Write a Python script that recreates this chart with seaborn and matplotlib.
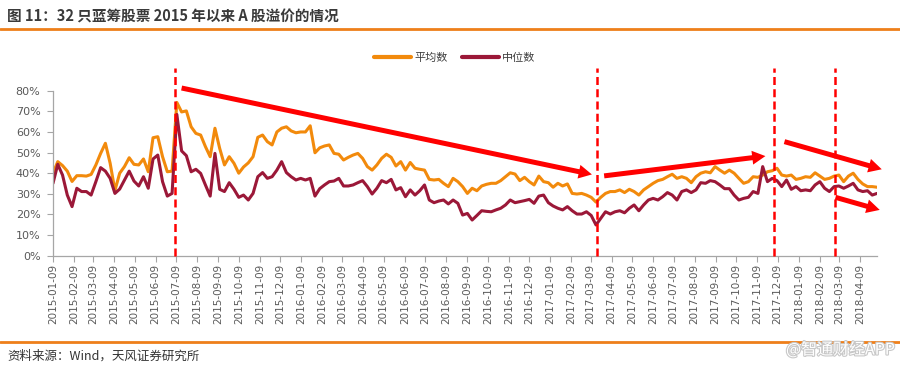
import numpy as np
import pandas as pd
import matplotlib
matplotlib.use("Agg")
import matplotlib.pyplot as plt
import matplotlib.dates as mdates
import matplotlib.patheffects as pe
from matplotlib.lines import Line2D
from matplotlib.ticker import FuncFormatter, MultipleLocator
import seaborn as sns

# ---------------- data ----------------
title = "图 11：32 只蓝筹股票 2015 年以来 A 股溢价的情况"
source = "资料来源：Wind，天风证券研究所"
watermark = "@智通财经APP"
series_names = ["平均数", "中位数"]
start_date = "2015-01-09"          # weekly observations
tick_start = "2015-01-09"
tick_end = "2018-04-09"

mean_values = [
    40.0, 45.6, 43.7, 41.0, 36.0, 38.8, 38.8, 38.6, 39.4, 44.0,
    49.6, 54.5, 44.8, 31.6, 40.0, 43.2, 47.5, 44.3, 44.0, 46.9,
    40.7, 57.2, 57.7, 48.0, 40.7, 41.0, 74.3, 69.7, 70.2, 62.5,
    59.3, 58.5, 52.9, 48.0, 61.8, 52.0, 44.0, 48.0, 44.8, 40.0,
    43.0, 45.0, 48.0, 57.4, 58.5, 55.3, 53.7, 60.0, 61.8, 62.5,
    60.5, 59.6, 60.0, 60.0, 63.0, 49.9, 52.3, 53.2, 53.7, 49.6,
    49.2, 46.4, 47.7, 48.8, 49.6, 47.2, 43.2, 41.5, 44.0, 47.2,
    49.2, 47.7, 43.5, 45.6, 41.5, 45.2, 42.4, 41.9, 41.5, 37.0,
    36.7, 37.0, 35.1, 33.5, 37.5, 35.9, 33.5, 30.2, 32.7, 31.5,
    33.8, 34.6, 35.1, 35.1, 36.4, 38.3, 40.2, 39.6, 36.4, 38.0,
    35.9, 34.3, 38.6, 35.9, 35.4, 33.2, 35.1, 33.8, 34.8, 30.2,
    29.9, 30.2, 29.4, 28.3, 26.0, 28.3, 30.2, 31.1, 31.1, 31.9,
    30.6, 32.2, 31.1, 29.4, 31.9, 33.5, 35.1, 36.4, 37.0, 38.3,
    39.5, 37.5, 38.3, 37.5, 35.4, 38.3, 40.0, 40.7, 40.2, 43.2,
    41.5, 40.0, 41.5, 40.0, 37.5, 35.1, 35.9, 38.3, 38.0, 39.1,
    40.7, 41.2, 42.4, 39.1, 38.6, 39.1, 37.0, 37.5, 38.3, 38.0,
    40.2, 38.6, 37.0, 37.5, 38.6, 39.1, 35.9, 38.6, 40.0, 37.0,
    34.8, 33.5, 33.5, 33.2,
]

median_values = [
    35.1, 44.3, 39.1, 29.4, 23.8, 32.7, 31.1, 31.1, 29.4, 35.9,
    42.7, 41.0, 37.5, 30.2, 32.3, 36.7, 41.0, 36.2, 33.8, 38.3,
    32.7, 46.9, 48.8, 35.9, 28.9, 30.2, 68.5, 50.8, 48.5, 40.7,
    41.9, 39.9, 34.3, 28.9, 49.6, 32.2, 31.1, 35.4, 32.2, 28.3,
    29.4, 27.0, 30.2, 38.3, 40.3, 37.5, 38.3, 41.5, 45.6, 40.3,
    38.3, 36.7, 37.5, 36.7, 37.5, 28.9, 32.5, 34.3, 35.9, 36.2,
    37.5, 33.8, 33.8, 34.3, 35.4, 36.4, 33.5, 29.9, 32.7, 36.4,
    35.4, 37.0, 31.9, 33.0, 28.6, 31.9, 29.4, 31.5, 34.3, 27.0,
    25.7, 26.5, 27.0, 25.1, 27.0, 25.4, 19.7, 20.5, 17.3, 19.5,
    21.8, 21.5, 21.3, 22.2, 23.0, 24.6, 27.0, 25.7, 26.2, 26.7,
    27.3, 25.4, 28.9, 29.4, 25.7, 24.1, 23.0, 22.2, 23.8, 21.8,
    20.2, 20.2, 21.3, 19.5, 14.9, 18.1, 21.3, 20.2, 21.3, 21.8,
    20.8, 23.0, 24.6, 21.8, 24.6, 27.0, 27.8, 27.0, 28.6, 30.6,
    29.4, 27.0, 31.1, 31.9, 30.6, 31.9, 35.4, 35.1, 36.4, 35.9,
    34.3, 32.5, 32.5, 29.4, 27.0, 27.8, 28.3, 31.1, 30.2, 43.2,
    35.9, 37.5, 36.4, 33.5, 36.7, 32.2, 33.5, 31.5, 31.9, 31.5,
    34.3, 35.9, 32.7, 31.1, 33.5, 33.8, 32.7, 33.8, 35.1, 31.9,
    31.1, 31.5, 29.4, 30.2,
]

# annotation marks (dashed markers and trend arrows)
vline_dates = ["2015-07-07", "2017-03-19", "2017-12-03", "2018-03-04"]
arrow_specs = [  # (start date, start value, tip date, tip value)
    ("2015-07-17", 81.3, "2017-03-11", 39.4),
    ("2017-03-29", 38.7, "2017-11-21", 48.3),
    ("2017-12-19", 55.3, "2018-05-11", 41.9),
    ("2018-03-04", 28.3, "2018-05-08", 22.2),
]

colors = {"平均数": "#F28A0C", "中位数": "#9B1838"}
cjk = ["Noto Sans CJK SC", "DejaVu Sans"]

# ---------------- build frame ----------------
dates = pd.date_range(start_date, periods=len(mean_values), freq="7D")
df = pd.concat([
    pd.DataFrame({"date": dates, "value": mean_values, "series": series_names[0]}),
    pd.DataFrame({"date": dates, "value": median_values, "series": series_names[1]}),
], ignore_index=True)

sns.set_theme(style="white")
plt.rcParams["font.family"] = ["DejaVu Sans", "Noto Sans CJK SC"]
plt.rcParams["axes.unicode_minus"] = False

W, H = 900, 368
fig = plt.figure(figsize=(W / 100, H / 100), dpi=100)
ax = fig.add_axes([53 / W, 1 - 255.7 / H, 824 / W, (255.7 - 90.7) / H])

sns.lineplot(data=df, x="date", y="value", hue="series", hue_order=series_names,
             palette=colors, linewidth=2.2, ax=ax, legend=False)

ax.set_xlim(dates[0], dates[-1])
ax.set_ylim(0, 80)
ax.set_xlabel("")
ax.set_ylabel("")

# ticks: the 9th of every month
ticks = pd.date_range(tick_start, tick_end, freq=pd.DateOffset(months=1))
ax.set_xticks(ticks)
ax.xaxis.set_major_formatter(mdates.DateFormatter("%Y-%m-%d"))
ax.yaxis.set_major_locator(MultipleLocator(10))
ax.yaxis.set_major_formatter(FuncFormatter(lambda v, p: f"{v:.0f}%"))
ax.tick_params(axis="x", bottom=True, labelrotation=90, labelsize=7.5, labelcolor="#595959",
               color="#A6A6A6", length=4, width=0.8, pad=2)
ax.tick_params(axis="y", left=True, labelsize=8, labelcolor="#595959",
               color="#A6A6A6", length=4, width=0.8, pad=5)
for s in ["top", "right"]:
    ax.spines[s].set_visible(False)
for s in ["left", "bottom"]:
    ax.spines[s].set_color("#A6A6A6")
    ax.spines[s].set_linewidth(0.9)

# dashed markers
for d in vline_dates:
    ax.axvline(pd.Timestamp(d), ymin=0, ymax=91 / 80, color="#FF0000", lw=1.8,
               linestyle=(0, (3.2, 1.7)), clip_on=False, zorder=5)

# arrows
for sd, sv, ed, ev in arrow_specs:
    ax.annotate("", xy=(mdates.date2num(pd.Timestamp(ed)), ev),
                xytext=(mdates.date2num(pd.Timestamp(sd)), sv),
                xycoords="data", textcoords="data", annotation_clip=False,
                arrowprops=dict(arrowstyle="simple,head_length=0.95,head_width=1.0,tail_width=0.36",
                                mutation_scale=10, facecolor="#FF0000", edgecolor="none",
                                lw=0, shrinkA=0, shrinkB=0),
                zorder=6)

# legend
handles = [Line2D([], [], color=colors[n], lw=3) for n in series_names]
fig.legend(handles, series_names, loc="center", bbox_to_anchor=(455 / W, 1 - 57.5 / H),
           ncol=2, frameon=False, prop={"family": cjk, "size": 8}, labelcolor="#404040",
           handlelength=3.3, handletextpad=0.3, columnspacing=1.3, borderpad=0, borderaxespad=0)

# title, rules, footer
fig.text(7 / W, 1 - 17 / H, title, fontsize=10.5, fontweight="bold", color="#3A3A3A",
         ha="left", va="center", family=cjk)
fig.add_artist(Line2D([0, 1], [1 - 28.5 / H] * 2, color="#EE7F1A", lw=2, transform=fig.transFigure))
fig.add_artist(Line2D([0, 1], [1 - 342 / H] * 2, color="#EE7F1A", lw=2, transform=fig.transFigure))
fig.text(7 / W, 1 - 356.5 / H, source, fontsize=9, color="#333333", ha="left", va="center", family=cjk)
fig.text(895 / W, 1 - 350 / H, watermark, fontsize=11.5, color="white", ha="right", va="center",
         family=cjk, path_effects=[pe.withStroke(linewidth=1.6, foreground="#C8C8C8")])

fig.savefig("out.png", dpi=100)
